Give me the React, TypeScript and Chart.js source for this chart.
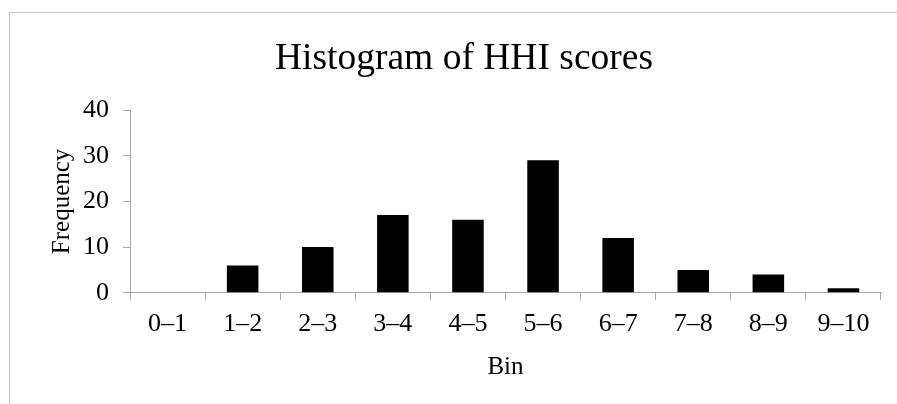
import React, { useEffect, useRef } from "react";
import { Chart, registerables } from "chart.js";

Chart.register(...registerables);

const categories = ["0–1", "1–2", "2–3", "3–4", "4–5", "5–6", "6–7", "7–8", "8–9", "9–10"];
const frequencies = [0, 6, 10, 17, 16, 29, 12, 5, 4, 1];
const yTicks = [0, 10, 20, 30, 40];

const FONT = "'Liberation Serif', 'Times New Roman', serif";
const AXIS = "#a6a6a6";

export default function App() {
  const ref = useRef<HTMLCanvasElement | null>(null);
  useEffect(() => {
    if (!ref.current) return;
    const chart = new Chart(ref.current, {
      type: "bar",
      data: {
        labels: categories,
        datasets: [
          {
            data: frequencies,
            backgroundColor: "#000000",
            borderWidth: 0,
            categoryPercentage: 1,
            barPercentage: 0.42,
          },
        ],
      },
      options: {
        animation: false,
        responsive: false,
        maintainAspectRatio: false,
        layout: { padding: { left: 37, right: 8, top: 14, bottom: 14 } },
        plugins: {
          legend: { display: false },
          tooltip: { enabled: false },
          title: {
            display: true,
            text: "Histogram of HHI scores",
            color: "#000",
            font: { family: FONT, size: 37.5, weight: "normal" },
            padding: { top: 10, bottom: 28 },
          },
        },
        scales: {
          x: {
            grid: {
              display: true,
              drawOnChartArea: false,
              drawTicks: true,
              tickLength: 7,
              color: AXIS,
              offset: true,
            },
            border: { display: true, color: AXIS, width: 1 },
            ticks: {
              color: "#000",
              font: { family: FONT, size: 26 },
              padding: 9,
              maxRotation: 0,
            },
            title: {
              display: true,
              text: "Bin",
              color: "#000",
              font: { family: FONT, size: 25 },
              padding: { top: 3, bottom: 0 },
            },
          },
          y: {
            min: 0,
            max: 40,
            afterBuildTicks: (axis: any) => {
              axis.ticks = yTicks.map((v) => ({ value: v }));
            },
            grid: {
              display: true,
              drawOnChartArea: false,
              drawTicks: true,
              tickLength: 7,
              color: AXIS,
            },
            border: { display: true, color: AXIS, width: 1 },
            ticks: {
              color: "#000",
              font: { family: FONT, size: 26 },
              padding: 14,
            },
            title: {
              display: true,
              text: "Frequency",
              color: "#000",
              font: { family: FONT, size: 25 },
              padding: { top: 0, bottom: -8 },
            },
          },
        },
      },
    });
    return () => chart.destroy();
  }, []);

  return (
    <div
      style={{
        position: "fixed",
        left: 9,
        top: 12,
        right: 0,
        bottom: 0,
        borderTop: "1px solid #c4c4c4",
        borderLeft: "1px solid #c4c4c4",
        overflow: "hidden",
      }}
    >
      <canvas ref={ref} width={879} height={383} style={{ display: "block" }} />
    </div>
  );
}
